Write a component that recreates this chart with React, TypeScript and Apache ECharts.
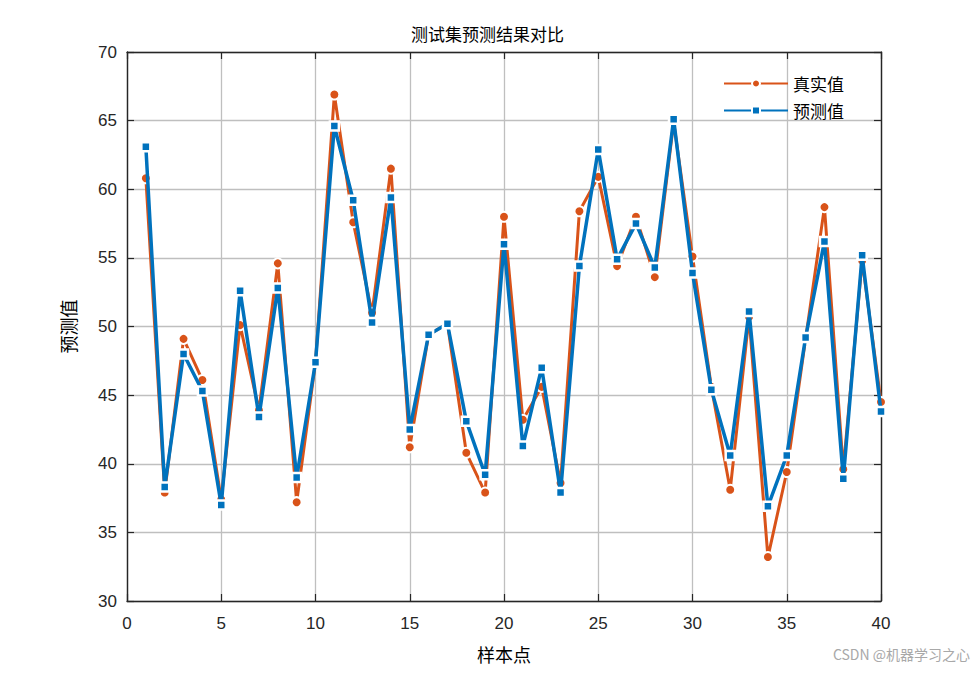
import { useEffect, useRef } from 'react';
import * as echarts from 'echarts';

const samples = [
  1, 2, 3, 4, 5, 6, 7, 8, 9, 10, 11, 12, 13, 14, 15, 16, 17, 18, 19, 20,
  21, 22, 23, 24, 25, 26, 27, 28, 29, 30, 31, 32, 33, 34, 35, 36, 37, 38, 39, 40,
];

const trueValues = [
  60.8, 37.9, 49.1, 46.1, 37.4, 50.1, 43.9, 54.6, 37.2, 47.4,
  66.9, 57.6, 51.0, 61.5, 41.2, 49.4, 50.2, 40.8, 37.9, 58.0,
  43.2, 45.6, 38.6, 58.4, 60.9, 54.4, 58.0, 53.6, 64.9, 55.1,
  45.6, 38.1, 50.7, 33.2, 39.4, 49.1, 58.7, 39.6, 54.8, 44.5,
];

const predValues = [
  63.1, 38.3, 48.0, 45.3, 37.0, 52.6, 43.4, 52.8, 39.0, 47.4,
  64.6, 59.2, 50.3, 59.4, 42.5, 49.4, 50.2, 43.1, 39.2, 56.0,
  41.3, 47.0, 37.9, 54.4, 62.9, 54.9, 57.5, 54.3, 65.1, 53.9,
  45.4, 40.6, 51.1, 36.9, 40.6, 49.2, 56.2, 38.9, 55.2, 43.8,
];

const seriesNames = ['真实值', '预测值'];
const seriesColors = ['#D95319', '#0072BD'];

const cjk = '"Noto Sans CJK SC", sans-serif';
const latin = '"Liberation Sans", Arial, sans-serif';

const App = () => {
  const chartRef = useRef<HTMLDivElement>(null);

  useEffect(() => {
    if (!chartRef.current) return;
    const chart = echarts.init(chartRef.current, undefined, { renderer: 'svg' });

    const tickStyle = { show: true, inside: true, length: 7, lineStyle: { color: '#262626', width: 1.2 } };
    const lineStyleAxis = { show: true, onZero: false, lineStyle: { color: '#262626', width: 1.4 } };

    chart.setOption({
      animation: false,
      backgroundColor: '#fff',
      title: {
        text: '测试集预测结果对比',
        left: 'center',
        top: 20,
        textStyle: { fontFamily: cjk, fontSize: 17, fontWeight: 'normal', color: '#000' },
      },
      legend: {
        orient: 'vertical',
        right: 126,
        top: 70,
        itemWidth: 64,
        itemHeight: 10,
        itemGap: 10,
        textStyle: { fontFamily: cjk, fontSize: 17, color: '#000' },
        data: seriesNames,
      },
      grid: { left: 127, right: 94, top: 52, bottom: 74, containLabel: false },
      xAxis: [
        {
          type: 'value',
          min: 0,
          max: 40,
          interval: 5,
          name: '样本点',
          nameLocation: 'middle',
          nameGap: 44,
          nameTextStyle: { fontFamily: cjk, fontSize: 18, color: '#000' },
          axisLine: lineStyleAxis,
          axisTick: tickStyle,
          axisLabel: { fontFamily: latin, fontSize: 17, color: '#262626', margin: 14 },
          splitLine: { show: true, lineStyle: { color: '#bfbfbf', width: 1.3 } },
        },
        {
          type: 'value',
          position: 'top',
          min: 0,
          max: 40,
          interval: 5,
          axisLine: lineStyleAxis,
          axisTick: tickStyle,
          axisLabel: { show: false },
          splitLine: { show: false },
        },
      ],
      yAxis: [
        {
          type: 'value',
          min: 30,
          max: 70,
          interval: 5,
          name: '预测值',
          nameLocation: 'middle',
          nameGap: 50,
          nameTextStyle: { fontFamily: cjk, fontSize: 18, color: '#000' },
          axisLine: lineStyleAxis,
          axisTick: tickStyle,
          axisLabel: { fontFamily: latin, fontSize: 17, color: '#262626', margin: 10 },
          splitLine: { show: true, lineStyle: { color: '#bfbfbf', width: 1.3 } },
        },
        {
          type: 'value',
          position: 'right',
          min: 30,
          max: 70,
          interval: 5,
          axisLine: lineStyleAxis,
          axisTick: tickStyle,
          axisLabel: { show: false },
          splitLine: { show: false },
        },
      ],
      series: [
        {
          name: seriesNames[0],
          type: 'line',
          data: samples.map((s, i) => [s, trueValues[i]]),
          symbol: 'circle',
          symbolSize: 10,
          color: seriesColors[0],
          lineStyle: { width: 3, color: seriesColors[0] },
          itemStyle: { color: seriesColors[0], borderColor: '#fff', borderWidth: 2 },
          z: 2,
        },
        {
          name: seriesNames[1],
          type: 'line',
          data: samples.map((s, i) => [s, predValues[i]]),
          symbol: 'rect',
          symbolSize: 9,
          color: seriesColors[1],
          lineStyle: { width: 3.5, color: seriesColors[1] },
          itemStyle: { color: seriesColors[1], borderColor: '#fff', borderWidth: 2.5 },
          z: 3,
        },
      ],
      graphic: [
        {
          type: 'text',
          right: 5,
          top: 647,
          style: { text: 'CSDN @机器学习之心', fontFamily: cjk, fontSize: 14, fill: '#a8a8a8' },
        },
      ],
    });

    return () => {
      chart.dispose();
    };
  }, []);

  return (
    <div
      ref={chartRef}
      style={{ position: 'absolute', left: 0, top: 0, width: 975, height: 675, background: '#fff' }}
    />
  );
};

export default App;
